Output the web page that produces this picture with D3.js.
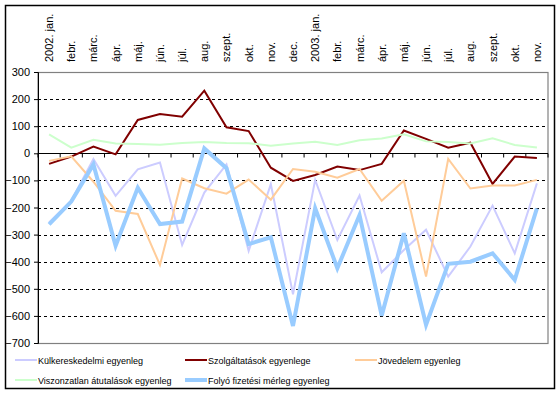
<!DOCTYPE html>
<html>
<head>
<meta charset="utf-8">
<script src="https://cdn.jsdelivr.net/npm/d3@7"></script>
<style>
  body { margin: 0; background: #fff; }
  svg { font-family: "Liberation Sans", Arial, sans-serif; }
</style>
</head>
<body>
<svg id="chart" width="560" height="395"></svg>
<script>
const months = ["2002. jan.", "febr.", "márc.", "ápr.", "máj.", "jún.", "júl.", "aug.", "szept.", "okt.", "nov.", "dec.",
  "2003. jan.", "febr.", "márc.", "ápr.", "máj.", "jún.", "júl.", "aug.", "szept.", "okt.", "nov."];

const kulker = [-255, -175, -21, -157, -59, -34, -338, -145, -41, -360, -114, -520, -98, -320, -156, -439, -357, -282, -455, -344, -193, -369, -111];
const szolg = [-39, -12, 25, -4, 123, 145, 135, 231, 96, 82, -53, -102, -80, -49, -62, -39, 84, 53, 21, 39, -113, -12, -17];
const jovedelem = [-28, -11, -105, -212, -224, -412, -93, -129, -149, -97, -171, -58, -68, -90, -58, -175, -101, -455, -21, -130, -119, -119, -98];
const viszonz = [70, 21, 50, 36, 34, 32, 38, 42, 38, 37, 28, 36, 43, 31, 48, 55, 70, 44, 42, 36, 55, 31, 21];
const folyo = [-262, -178, -41, -341, -127, -261, -252, 18, -55, -335, -310, -637, -203, -424, -228, -599, -295, -633, -408, -400, -369, -467, -203];

const yTicks = [300, 200, 100, 0, -100, -200, -300, -400, -500, -600, -700];

const series = [
  { name: "Külkereskedelmi egyenleg", values: kulker, color: "#ccccff", width: 2 },
  { name: "Szolgáltatások egyenlege", values: szolg, color: "#800000", width: 2 },
  { name: "Jövedelem egyenleg", values: jovedelem, color: "#ffcc99", width: 2 },
  { name: "Viszonzatlan átutalások egyenleg", values: viszonz, color: "#ccffcc", width: 2 },
  { name: "Folyó fizetési mérleg egyenleg", values: folyo, color: "#99ccff", width: 4 }
];

const svg = d3.select("#chart");
const plotL = 38, plotR = 548, plotT = 72, plotB = 343;

// outer frame
svg.append("rect")
  .attr("x", 5.5).attr("y", 5.5).attr("width", 549).attr("height", 383)
  .attr("fill", "#fff").attr("stroke", "#000").attr("stroke-width", 1.5);

const x = d3.scaleBand().domain(d3.range(months.length)).range([plotL, plotR]);
const y = d3.scaleLinear().domain([-700, 300]).range([plotB, plotT]);

// plot area border
svg.append("rect")
  .attr("x", plotL).attr("y", plotT + 0.5).attr("width", plotR - plotL).attr("height", plotB - plotT)
  .attr("fill", "none").attr("stroke", "#808080").attr("stroke-width", 1.2);

// grid
svg.append("g")
  .selectAll("line")
  .data(yTicks.filter(d => d !== 0 && d !== 300 && d !== -700))
  .join("line")
    .attr("x1", plotL).attr("x2", plotR)
    .attr("y1", d => Math.round(y(d)) + 0.5).attr("y2", d => Math.round(y(d)) + 0.5)
    .attr("stroke", "#000").attr("stroke-dasharray", "3,3");

// y axis
const yAxis = svg.append("g")
  .attr("transform", `translate(${plotL},0)`)
  .call(d3.axisLeft(y).tickValues(yTicks).tickSize(4).tickPadding(4).tickFormat(d3.format("d")));
yAxis.select(".domain").attr("stroke", "#000");
yAxis.selectAll("text").attr("font-size", 11).attr("fill", "#000").attr("font-family", "Liberation Sans, Arial, sans-serif");
yAxis.selectAll("line").attr("stroke", "#000");

// zero axis with ticks
const xAxis = svg.append("g")
  .attr("transform", `translate(0,${Math.round(y(0)) + 0.5})`);
xAxis.append("line").attr("x1", plotL).attr("x2", plotR).attr("stroke", "#000");
xAxis.selectAll(".tk")
  .data(d3.range(months.length + 1))
  .join("line")
    .attr("class", "tk")
    .attr("x1", i => plotL + i * x.step()).attr("x2", i => plotL + i * x.step())
    .attr("y1", 0).attr("y2", 4)
    .attr("stroke", "#000");

// category labels on top
svg.append("g")
  .selectAll("text")
  .data(months)
  .join("text")
    .attr("transform", (d, i) => `translate(${x(i) + x.bandwidth() / 2 + 4},62) rotate(-90)`)
    .attr("text-anchor", "start")
    .attr("font-size", 11)
    .text(d => d);

// lines
const line = d3.line()
  .x((d, i) => x(i) + x.bandwidth() / 2)
  .y(d => y(d));

svg.append("g")
  .selectAll("path")
  .data(series)
  .join("path")
    .attr("d", d => line(d.values))
    .attr("fill", "none")
    .attr("stroke", d => d.color)
    .attr("stroke-width", d => d.width)
    .attr("stroke-linejoin", "miter");

// legend
const legendPos = [[15, 360], [185, 360], [355, 360], [15, 380], [185, 380]];
const lg = svg.append("g")
  .selectAll("g")
  .data(series)
  .join("g")
    .attr("transform", (d, i) => `translate(${legendPos[i][0]},${legendPos[i][1]})`);
lg.append("line")
  .attr("x1", 0).attr("x2", 22)
  .attr("stroke", d => d.color)
  .attr("stroke-width", d => d.width);
lg.append("text")
  .attr("x", 23).attr("y", 3.5)
  .attr("font-size", 9)
  .text(d => d.name);
</script>
</body>
</html>
